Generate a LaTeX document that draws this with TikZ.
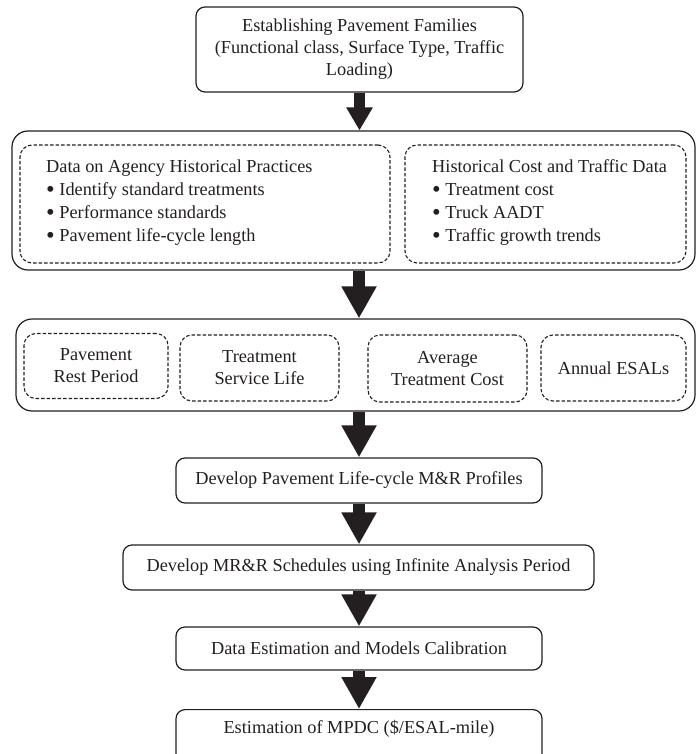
\documentclass[tikz,border=0pt]{standalone}
\usepackage{fontspec}
\usepackage{graphicx}
\setmainfont{Liberation Serif}
\usetikzlibrary{arrows.meta}
\definecolor{ink}{HTML}{231F20}
\newcommand{\bul}{\raisebox{-0.1em}{\scalebox{1.35}{\textbullet}}\ }
\tikzset{
  solidbox/.style={draw=ink, line width=1.2pt, rounded corners=9pt, inner sep=0pt, align=center, text=ink},
  groupbox/.style={draw=ink, line width=1.2pt, rounded corners=16pt, inner sep=0pt},
  dashbox/.style={draw=ink, line width=1.1pt, dash pattern=on 3.5pt off 2pt, rounded corners=12pt, inner sep=0pt, align=center, text=ink},
  txt/.style={inner sep=0pt, align=left, text=ink},
  fat/.style={draw=ink, line width=12pt, -{Triangle[width=33pt,length=32pt]}},
  fatsmall/.style={draw=ink, line width=11pt, -{Triangle[width=25pt,length=23pt]}},
}
\begin{document}
\begin{tikzpicture}[x=1pt,y=-1pt, font=\fontsize{18.3}{22}\selectfont]
\useasboundingbox (0,0) rectangle (696,754);
% top box
\node[solidbox, minimum width=327pt, minimum height=85pt] (fam) at (359.5,49.5)
  {Establishing Pavement Families\\(Functional class, Surface Type, Traffic\\Loading)};
% group 1
\node[groupbox, minimum width=683pt, minimum height=139pt] (g1) at (353.5,200.5) {};
\node[dashbox, minimum width=370pt, minimum height=118pt] (hp) at (205,204) {};
\node[dashbox, minimum width=281pt, minimum height=118pt] (hc) at (545.5,204) {};
\node[txt, anchor=west, font=\fontsize{18.3}{23}\selectfont] (hpt) at (46,203)
  {Data on Agency Historical Practices\\\bul Identify standard treatments\\\bul Performance standards\\\bul Pavement life-cycle length};
\node[txt, anchor=west, font=\fontsize{18.3}{23}\selectfont] (hct) at (432,203)
  {Historical Cost and Traffic Data\\\bul Treatment cost\\\bul Truck AADT\\\bul Traffic growth trends};
% group 2
\node[groupbox, minimum width=679pt, minimum height=92pt] (g2) at (355.5,365) {};
\node[dashbox, minimum width=144pt, minimum height=65pt] (prp) at (96,366) {Pavement\\Rest Period};
\node[dashbox, minimum width=159pt, minimum height=66pt] (tsl) at (259.5,368) {Treatment\\Service Life};
\node[dashbox, minimum width=159pt, minimum height=67pt] (atc) at (447.5,368.5) {Average\\Treatment Cost};
\node[dashbox, minimum width=145pt, minimum height=66pt] (ae) at (613.5,368) {Annual ESALs};
% lower boxes
\node[solidbox, minimum width=366pt, minimum height=45pt] (lcp) at (359,480.5) {Develop Pavement Life-cycle M\&R Profiles};
\node[solidbox, minimum width=471pt, minimum height=45pt] (mrr) at (358.5,567.5) {Develop MR\&R Schedules using Infinite Analysis Period};
\node[solidbox, minimum width=366pt, minimum height=43pt] (dem) at (359,648.5) {Data Estimation and Models Calibration};
\node[solidbox, minimum width=366pt, minimum height=60pt, anchor=north] (mpdc) at (359,709) {};
\node[txt, align=center] (mpdct) at (359,729) {Estimation of MPDC (\$/ESAL-mile)};
% arrows (kept vertical along the common axis x = 359)
\draw[fatsmall] (fam.south) -- (fam.south |- g1.north);
\draw[fat] (g1.south -| lcp.north) -- (g2.north -| lcp.north);
\draw[fat] (g2.south -| lcp.north) -- (lcp.north);
\draw[fat] (lcp.south) -- (mrr.north -| lcp.south);
\draw[fat] (mrr.south -| lcp.south) -- (dem.north);
\draw[fat] (dem.south) -- (mpdc.north);
\end{tikzpicture}
\end{document}
